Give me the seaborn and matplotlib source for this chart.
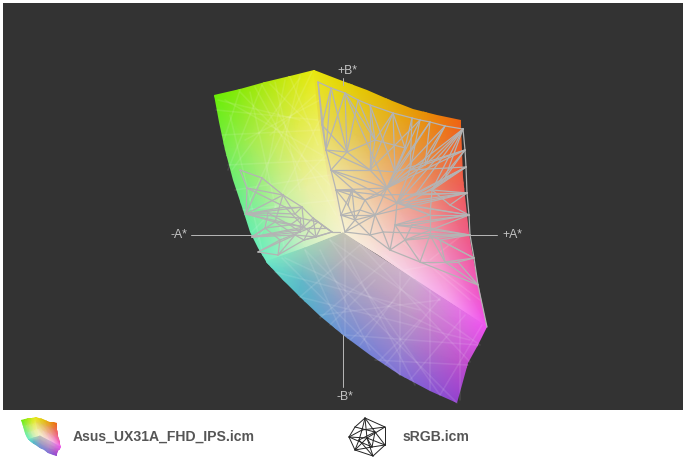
import numpy as np
import pandas as pd
import matplotlib
matplotlib.use("Agg")
import matplotlib.pyplot as plt
import seaborn as sns
from matplotlib.patches import Polygon

W, H = 687, 463

# gamut surface, projected a*/b* positions and colours, one small grid per face
left_x = [[212, 239, 264, 289, 314], [222, 249, 273, 296, 319], [240, 264, 285, 306, 328], [262, 286, 305, 324, 343]]
left_y = [[93, 87, 81, 75, 70], [150, 143, 137, 130, 120], [210, 203, 197, 187, 175], [265, 255, 248, 240, 233]]
left_c = [["#66ee00", "#88ea06", "#aae80a", "#cce80c", "#e8e80c"],
          ["#70ee50", "#a0ec50", "#c4ec50", "#e0ec50", "#eeee58"],
          ["#66ee98", "#98ee98", "#c8f0a0", "#e8f0a0", "#f2f2a0"],
          ["#66eec8", "#98eec4", "#c8f0c8", "#e4f2c8", "#f6f2d0"]]

right_x = [[314, 351, 388, 425, 463], [319, 355, 392, 428, 467], [328, 364, 400, 436, 474], [343, 379, 415, 451, 487]]
right_y = [[70, 82, 97, 110, 118], [120, 135, 152, 170, 190], [175, 190, 212, 235, 258], [233, 255, 280, 303, 327]]
right_c = [["#e8e80c", "#e4d000", "#e4b400", "#e89000", "#f06010"],
           ["#e8dc50", "#e4c850", "#e8a850", "#e88850", "#f05858"],
           ["#f0e8a0", "#f0d0a0", "#f0b0a0", "#f090a8", "#f0559c"],
           ["#f8f4d8", "#f8e0e0", "#f8c8ec", "#f8a0f0", "#f050f0"]]

bottom_x = [[262, 305, 343, 415, 487], [262, 303, 343, 410, 480], [262, 302, 343, 405, 470], [262, 297, 341, 398, 457]]
bottom_y = [[263, 248, 233, 280, 327], [263, 265, 267, 312, 347], [263, 281, 301, 343, 367], [263, 300, 338, 378, 405]]
bottom_c = [["#66eec8", "#9cd4b8", "#c4c4b4", "#d0acd0", "#f050f0"],
            ["#66eec8", "#84c4c0", "#b0aebc", "#c098c8", "#d850e0"],
            ["#66eec8", "#62b8c8", "#949cc8", "#a484cc", "#c048cc"],
            ["#66eec8", "#50b8c8", "#6890d8", "#7c70d8", "#9040d0"]]

# silhouette of the solid
outline_x = [214, 240, 265, 290, 314, 340, 367, 390, 413, 437, 461, 461, 463, 466, 469, 473, 477, 482, 487, 478, 468,
             462, 457, 430, 400, 370, 343, 320, 300, 283, 267, 258, 250, 243, 233, 225, 219]
outline_y = [95, 88.5, 82, 76, 70, 80, 90, 100, 109, 115, 120, 125, 177, 205, 233, 257, 277, 303, 327, 345, 363,
             385, 403, 391, 375, 355, 335, 316, 297, 280, 263, 248, 232, 210, 180, 150, 122]

# sRGB wireframe nodes
nodes = {
    "t0": (318, 82), "t1": (331, 88), "t2": (345, 93), "t3": (358, 100), "t4": (370, 105), "t5": (393, 113),
    "t6": (412, 118), "t7": (420, 120), "t8": (430, 122), "t9": (445, 126), "r1": (463, 129), "r2": (465, 150),
    "r3": (466, 167), "r4": (467, 193), "r5": (469, 215), "r6": (470, 235), "r7": (474, 258), "r8": (478, 285),
    "r9": (487, 327), "l1": (322, 125), "l2": (326, 150), "l3": (331, 170), "l4": (336, 190), "l5": (341, 215),
    "l6": (345, 232), "a": (347, 152), "b": (370, 170), "c": (395, 172), "d": (387, 188), "e": (397, 203),
    "f": (415, 195), "g": (432, 190), "h": (375, 215), "i": (365, 200), "j": (352, 190), "k": (405, 240),
    "m": (430, 235), "n": (445, 262), "o": (390, 250), "p": (370, 235), "q": (420, 262), "s": (355, 220),
    "u": (395, 225), "v": (430, 215), "x": (405, 148), "y": (375, 140),
    "z1": (410, 170), "z2": (425, 165), "z3": (445, 178), "z4": (450, 205), "z5": (412, 225), "z6": (380, 195),
    "z7": (360, 210), "z8": (348, 205), "z9": (383, 232), "z10": (440, 240), "z11": (458, 262), "z12": (405, 205),
    "a1": (262, 178), "a2": (240, 170), "a3": (247, 188), "a4": (283, 195), "a5": (302, 207), "a6": (304, 227),
    "a7": (246, 214), "a8": (285, 207), "a9": (252, 237), "a10": (275, 222), "a11": (313, 218), "a12": (316, 237),
    "a13": (322, 225), "a14": (332, 232), "a15": (258, 252), "a16": (278, 255), "a17": (295, 235), "a18": (340, 232),
    "a19": (304, 240),
    "b1": (300, 218), "b2": (300, 232), "b3": (310, 228), "b4": (326, 228), "b5": (318, 222), "b6": (290, 225),
    "b7": (268, 213), "b8": (265, 228), "b9": (280, 240), "b10": (295, 214),
}
edges = ("t0-t1 t1-t2 t2-t3 t3-t4 t4-t5 t5-t6 t6-t7 t7-t8 t8-t9 t9-r1 r1-r2 r2-r3 r3-r4 r4-r5 r5-r6 r6-r7 r7-r8 r8-r9 "
         "t0-l1 l1-l2 l2-l3 l3-l4 l4-l5 l5-l6 t0-l2 t1-l1 t1-a t2-a t2-y t2-d t3-y t4-y t4-c t5-y t5-c t5-x t6-x t7-b t7-d "
         "t8-d t8-c t9-d t9-e r1-d r1-e r1-f r1-g r2-g r2-d r2-c r3-g r3-f r3-e r4-e r4-f r4-g r4-h r5-v r5-k r5-e r5-u r6-m "
         "r6-k r6-u r7-n r7-m r8-n r8-q l1-a l2-a l2-b l3-a l3-b l3-d l3-i l4-i l4-j l4-d l5-s l5-h l5-j l6-s l6-p l6-h "
         "a-b a-y b-y b-c b-d c-x c-d d-e d-i d-h e-f f-g e-h e-u h-i h-p h-s i-j j-s p-o p-s o-k o-q o-u u-k u-v k-m m-v "
         "m-q m-n q-n k-q v-g v-e x-y x-d a2-a1 a1-a4 a4-a5 a5-a6 a6-a11 a11-a13 a13-a14 a14-a18 a2-a3 a3-a4 a3-a8 a8-a5 "
         "a3-a7 a7-a8 a7-a10 a10-a6 a7-a5 a7-a6 a9-a10 a9-a6 a9-a17 a10-a17 a17-a6 a17-a12 a17-a19 a12-a13 a12-a14 a6-a12 "
         "a15-a17 a15-a16 a16-a19 a16-a17 a19-a12 a19-a14 a4-a10 a4-a7 a1-a7 a8-a6 a5-a11 a11-a14 a11-a12 "
         "t6-z1 t7-z1 t8-z2 t9-z2 r1-z2 r1-z3 r2-z3 r2-z1 r3-z3 r3-z1 r3-z12 r4-z4 r4-z12 r4-z6 r5-z4 r5-z5 r5-z12 r6-z10 "
         "r6-z5 r6-z9 r7-z10 r7-z11 r8-z11 z1-d z1-e z2-d z3-g z4-g z5-u z5-k z6-d z6-e z6-i z7-i z7-s z7-h z8-j z8-s z9-h "
         "z9-o z9-p z10-m z10-n z11-n z12-e z12-v l4-z6 l3-z6 l5-z7 l4-z8 t1-l2 t2-l2 t3-a t4-b t5-b "
         "b1-b2 b2-b3 b3-b4 b4-a14 b5-b4 b5-b3 b1-b5 b1-b6 b6-b2 b6-b7 b7-b8 b8-b6 b8-b9 b9-b2 b9-a16 a7-b7 a9-b8 a15-b9 "
         "a4-b10 b10-b1 b10-a5 b7-b10 a9-b2 a19-b3 a7-b1 a9-b3")

# lighter mesh lines seen through the surface
faint_lines = [(225, 100, 322, 155), (240, 92, 330, 185), (262, 85, 336, 215), (275, 82, 300, 190), (290, 77, 318, 145),
               (216, 110, 318, 120), (222, 135, 320, 130), (228, 165, 326, 160), (235, 190, 330, 175), (243, 210, 336, 200),
               (230, 115, 262, 250), (250, 92, 285, 250), (300, 75, 280, 160), (312, 72, 250, 200), (300, 78, 232, 170),
               (262, 85, 228, 170), (240, 90, 224, 140), (320, 120, 258, 240), (326, 155, 252, 232), (218, 100, 300, 120),
               (270, 84, 310, 125), (285, 80, 265, 180), (255, 87, 300, 170), (315, 95, 270, 135), (245, 140, 320, 100),
               (400, 240, 470, 300), (430, 260, 462, 235), (405, 270, 460, 260), (385, 255, 440, 300), (440, 270, 480, 300),
               (282, 258, 400, 375), (305, 250, 343, 335), (330, 240, 440, 395), (360, 245, 300, 297), (385, 262, 320, 318),
               (410, 278, 360, 345), (440, 298, 385, 365), (465, 315, 410, 380), (482, 325, 440, 395), (360, 245, 470, 362),
               (330, 240, 480, 345), (305, 250, 457, 403), (285, 258, 440, 330), (400, 272, 400, 375), (430, 290, 430, 390),
               (460, 310, 460, 400), (345, 238, 345, 335), (275, 272, 420, 310), (300, 297, 470, 340), (345, 335, 478, 345),
               (375, 360, 468, 365), (320, 315, 440, 300), (320, 250, 370, 350), (350, 260, 415, 385), (375, 280, 330, 325),
               (395, 300, 350, 340), (420, 320, 380, 360)]

# gamut axes
axis_x = [[191, 257], [470, 497], [343, 343], [343, 343]]
axis_y = [[235, 235], [235, 235], [78, 85], [335, 387]]

# sRGB icon
icon_nodes = {"n": (365, 418), "e": (385, 427), "f": (385, 445), "s": (373, 456), "w": (355, 450), "x": (349, 437),
              "y": (355, 427), "c": (367, 438), "i": (375, 432), "j": (359, 440), "k": (372, 447), "l": (362, 430)}
icon_edges = "n-e e-f f-s s-w w-x x-y y-n n-c c-s c-e c-x n-i i-f i-j j-w j-s l-x l-e k-x k-f k-w n-l c-f y-i c-k c-w i-k l-j"

sns.set_theme(style="white")
plt.rcParams["font.family"] = ["Liberation Sans", "DejaVu Sans"]
LINE = 0.72


def to_rgb_grid(cols):
    return np.array([[matplotlib.colors.to_rgb(c) for c in row] for row in cols])


def draw_faces(ax):
    clip = Polygon(np.column_stack([outline_x, outline_y]), closed=True, transform=ax.transData)
    for xs, ys, cs in [(left_x, left_y, left_c), (right_x, right_y, right_c), (bottom_x, bottom_y, bottom_c)]:
        mesh = ax.pcolormesh(np.array(xs, float), np.array(ys, float), to_rgb_grid(cs), shading="gouraud")
        mesh.set_clip_path(clip)


def segments_frame(segs):
    rows = []
    for i, (x1, y1, x2, y2) in enumerate(segs):
        rows.append({"seg": i, "x": x1, "y": y1, "o": 0})
        rows.append({"seg": i, "x": x2, "y": y2, "o": 1})
    return pd.DataFrame(rows)


def edge_segments(nd, text):
    segs = []
    for e in text.split():
        p, q = e.split("-")
        segs.append((*nd[p], *nd[q]))
    return segs


def draw_lines(ax, segs, color, lw, alpha=1.0):
    sns.lineplot(data=segments_frame(segs), x="x", y="y", units="seg", estimator=None, sort=False,
                 color=color, linewidth=lw, alpha=alpha, legend=False, ax=ax)


fig = plt.figure(figsize=(W / 100, H / 100), dpi=100, facecolor="white")
ax = fig.add_axes([3 / W, 1 - 410 / H, 680 / W, 407 / H], facecolor="#333333")
draw_faces(ax)
draw_lines(ax, faint_lines, "white", LINE * 1.6, 0.1)
draw_lines(ax, edge_segments(nodes, edges), "#b4b4b4", LINE * 1.25)
axis_segs = [(a[0], b[0], a[1], b[1]) for a, b in zip(axis_x, axis_y)]
draw_lines(ax, axis_segs, "#b4b4b4", LINE)
ax.set_xlim(3, 683)
ax.set_ylim(410, 3)
ax.set_xlabel("")
ax.set_ylabel("")
ax.set_xticks([])
ax.set_yticks([])
for sp in ax.spines.values():
    sp.set_visible(False)

lab = dict(color="#c4c4c4", fontsize=8.8, ha="center", va="center")
ax.text(347, 71, "+B*", **lab)
ax.text(179, 235, "-A*", **lab)
ax.text(512, 235, "+A*", **lab)
ax.text(345, 397, "-B*", **lab)

leg = dict(color="#555555", fontsize=10.1, fontweight="bold", ha="left", va="center")
ax.text(73, 437, "Asus_UX31A_FHD_IPS.icm", **leg)
ax.text(403, 437, "sRGB.icm", **leg)

# legend icons
ic1 = fig.add_axes([21 / W, 1 - 456 / H, 40 / W, 39 / H])
draw_faces(ic1)
ic1.set_xlim(214, 487)
ic1.set_ylim(403, 70)
ic1.axis("off")

ic2 = fig.add_axes([345 / W, 1 - 460 / H, 45 / W, 45 / H])
draw_lines(ic2, edge_segments(icon_nodes, icon_edges), "#222222", 0.7)
ic2.set_xlim(345, 390)
ic2.set_ylim(460, 415)
ic2.axis("off")

fig.savefig("out.png", dpi=100)
